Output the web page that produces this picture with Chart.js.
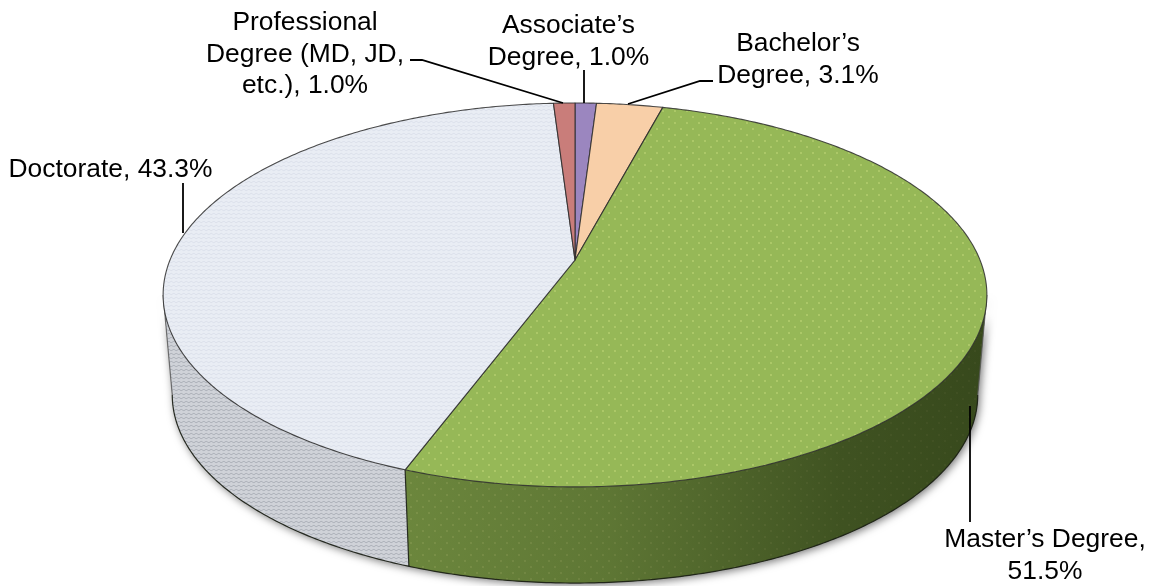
<!DOCTYPE html>
<html><head><meta charset="utf-8">
<style>html,body{margin:0;padding:0;background:#fff}canvas{display:block}</style>
<script src="https://cdn.jsdelivr.net/npm/chart.js@4"></script>
</head><body><canvas id="c" width="1154" height="586"></canvas>
<script>
const categories = ["Associate\u2019s Degree","Bachelor\u2019s Degree","Master\u2019s Degree","Doctorate","Professional Degree (MD, JD, etc.)"];
const values = [1.0,3.1,51.5,43.3,1.0];
const labelLines = [
  ["Associate\u2019s","Degree, 1.0%"],
  ["Bachelor\u2019s","Degree, 3.1%"],
  ["Master\u2019s Degree,","51.5%"],
  ["Doctorate, 43.3%"],
  ["Professional","Degree (MD, JD,","etc.), 1.0%"]
];
const baseColors = ["#9b86bf","#f8cfa8","#96b857","#e9edf4","#c97d7a"];

const labelAnchors = [[568.5,33,31.5],[798,51,32],[1045,547,31.5],[110.5,177,0],[305,30,31.5]];
const leaders = [
  [[584,70],[584,103]],
  [[713,81],[700,81],[628,104]],
  [[970,406],[970,522]],
  [[183,183],[183,233]],
  [[410,60],[422,60],[563,103]]
];
const A=0.182;
const top3d={ax:575,ay:260,S:405,B:185.6};
const base3d={ax:575,ay:360.8,S:396,B:181.8};
function proj(g,a){ // a = chart angle (radians, -PI/2 = 12 o'clock)
  const u=Math.cos(a), v=-Math.sin(a), d=1+A*v;
  return [g.ax+g.S*u/d, g.ay-g.B*v/d];
}
function tile(w,h,draw){
  const c=document.createElement('canvas');c.width=w;c.height=h;draw(c.getContext('2d'),w,h);return c;
}
function dots(ctx,col,dot){
  return ctx.createPattern(tile(12,12,(t,w,h)=>{
    t.fillStyle=col;t.fillRect(0,0,w,h);
    t.fillStyle=dot;
    t.beginPath();t.arc(3,3,1.1,0,7);t.arc(9,9,1.1,0,7);t.fill();
  }),'repeat');
}
function waves(ctx,col,line){
  return ctx.createPattern(tile(10,8,(t,w,h)=>{
    t.fillStyle=col;t.fillRect(0,0,w,h);
    t.strokeStyle=line;t.lineWidth=1;
    t.beginPath();t.moveTo(0,2);t.bezierCurveTo(2.5,0,2.5,4,5,2);t.bezierCurveTo(7.5,0,7.5,4,10,2);t.stroke();
    t.beginPath();t.moveTo(-2.5,6);t.bezierCurveTo(0,4,0,8,2.5,6);t.bezierCurveTo(5,4,5,8,7.5,6);t.bezierCurveTo(10,4,10,8,12.5,6);t.stroke();
  }),'repeat');
}
const ctx0=document.getElementById('c').getContext('2d');
const fills=baseColors.slice();
fills[2]=dots(ctx0,baseColors[2],'rgba(205,225,130,.5)');
fills[3]=waves(ctx0,baseColors[3],'rgba(208,214,226,.55)');
const wallFills=fills.slice();
wallFills[3]=waves(ctx0,'#d6d9df','rgba(150,155,165,.6)');

function rimPath(ctx,g,a1,a2,first){
  const n=Math.max(2,Math.ceil(Math.abs(a2-a1)/0.01));
  for(let i=0;i<=n;i++){
    const p=proj(g,a1+(a2-a1)*i/n);
    if(i===0&&first)ctx.moveTo(p[0],p[1]);else ctx.lineTo(p[0],p[1]);
  }
}
const pie3d={
  id:'pie3d',
  beforeDatasetDraw(chart,args){
    const ctx=chart.ctx, arcs=chart.getDatasetMeta(args.index).data;
    const ta=Math.acos(-A), right=ta-Math.PI/2, left=1.5*Math.PI-ta;
    ctx.save();
    // soft shadow under the solid
    ctx.save();
    ctx.shadowColor='rgba(0,0,0,.55)';ctx.shadowBlur=8;ctx.shadowOffsetX=2;ctx.shadowOffsetY=2;
    ctx.fillStyle='#555';
    ctx.beginPath();
    rimPath(ctx,top3d,right,left,true);rimPath(ctx,base3d,left,right,false);ctx.closePath();ctx.fill();
    ctx.restore();
    // walls: only the part of each slice facing the viewer
    arcs.forEach((arc,i)=>{
      const a1=Math.max(arc.startAngle,right), a2=Math.min(arc.endAngle,left);
      if(a2<=a1)return;
      ctx.beginPath();
      rimPath(ctx,top3d,a1,a2,true);
      rimPath(ctx,base3d,a2,a1,false);
      ctx.closePath();
      ctx.fillStyle=wallFills[i];ctx.fill();
      const g=ctx.createLinearGradient(405,0,985,0);
      if(i===2){g.addColorStop(0,'rgba(10,20,0,.30)');g.addColorStop(.35,'rgba(10,20,0,.40)');g.addColorStop(.75,'rgba(10,20,0,.62)');g.addColorStop(1,'rgba(10,20,0,.68)');}
      else{g.addColorStop(0,'rgba(0,0,0,.03)');g.addColorStop(1,'rgba(0,0,0,.03)');}
      ctx.fillStyle=g;ctx.fill();
    });
    // wall outlines
    ctx.strokeStyle='rgba(25,30,20,.9)';ctx.lineWidth=1.2;
    ctx.beginPath();rimPath(ctx,base3d,right,left,true);ctx.stroke();
    const seam=arcs[3].startAngle, s1=proj(top3d,seam), s2=proj(base3d,seam);
    ctx.beginPath();ctx.moveTo(s1[0],s1[1]);ctx.lineTo(s2[0],s2[1]);ctx.stroke();
    ctx.strokeStyle='rgba(90,90,90,.8)';
    [left,right].forEach(a=>{const p=proj(top3d,a),q=proj(base3d,a);ctx.beginPath();ctx.moveTo(p[0],p[1]);ctx.lineTo(q[0],q[1]);ctx.stroke();});
    // top surface
    arcs.forEach(arc=>{
      ctx.beginPath();ctx.moveTo(top3d.ax,top3d.ay);
      rimPath(ctx,top3d,arc.startAngle,arc.endAngle,false);
      ctx.closePath();
      ctx.fillStyle=arc.options.backgroundColor;ctx.fill();
      ctx.strokeStyle='rgba(45,45,45,.85)';ctx.lineWidth=1.1;ctx.lineJoin='round';ctx.stroke();
    });
    ctx.restore();
    return false;
  },
  afterDraw(chart){
    const ctx=chart.ctx;
    ctx.save();
    ctx.strokeStyle='#000';ctx.lineWidth=1.8;
    leaders.forEach(l=>{ctx.beginPath();l.forEach((p,i)=>i?ctx.lineTo(p[0],p[1]):ctx.moveTo(p[0],p[1]));ctx.stroke();});
    ctx.fillStyle='#000';ctx.font='26.4px "Liberation Sans", Arial, sans-serif';ctx.textAlign='center';ctx.textBaseline='alphabetic';
    labelLines.forEach((lines,i)=>{
      const a=labelAnchors[i];
      lines.forEach((t,j)=>ctx.fillText(t,a[0],a[1]+j*a[2]));
    });
    ctx.restore();
  }
};
new Chart(document.getElementById('c'),{
  type:'pie',
  data:{labels:categories,datasets:[{data:values,backgroundColor:fills,borderWidth:0}]},
  options:{responsive:false,animation:false,events:[],rotation:0,
    plugins:{legend:{display:false},tooltip:{enabled:false}}},
  plugins:[pie3d]
});
</script></body></html>
